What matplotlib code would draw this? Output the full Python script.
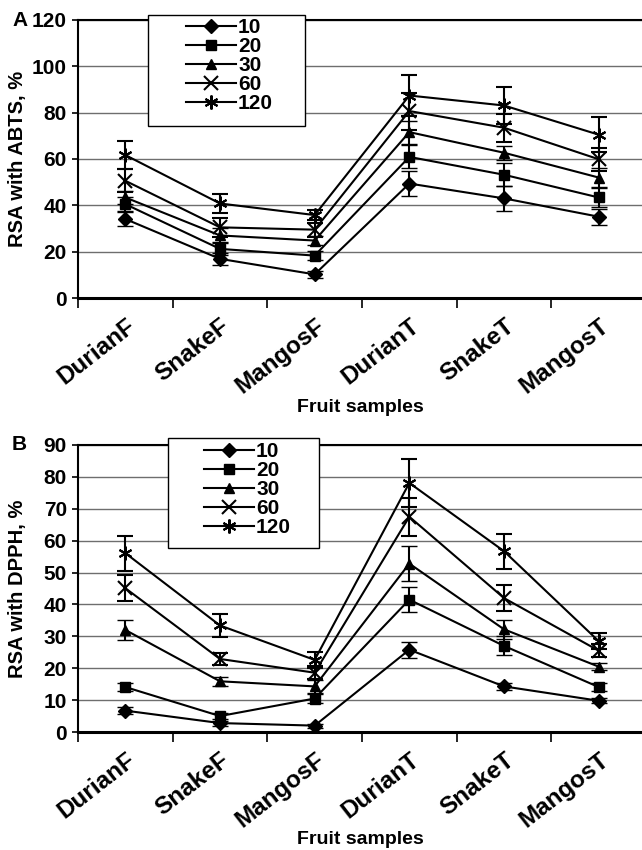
import matplotlib
matplotlib.use("Agg")
import matplotlib.pyplot as plt
from matplotlib.patches import Rectangle
from matplotlib.lines import Line2D
import numpy as np

plt.rcParams['font.family'] = ['Liberation Sans', 'DejaVu Sans']
plt.rcParams['font.weight'] = 'bold'

categories = ["DurianF", "SnakeF", "MangosF", "DurianT", "SnakeT", "MangosT"]
series_labels = ["10", "20", "30", "60", "120"]
markers = ["D", "s", "^", "x", (6, 2, 0)]

# Panel A: RSA with ABTS, %
abts_10 = [34.1, 16.9, 10.2, 49.4, 43.0, 35.1]
abts_20 = [40.5, 21.2, 18.3, 60.9, 53.2, 43.4]
abts_30 = [43.4, 27.0, 24.8, 71.6, 62.7, 52.0]
abts_60 = [50.6, 30.5, 29.5, 80.7, 73.5, 59.9]
abts_120 = [61.7, 40.8, 35.8, 87.4, 83.1, 70.5]
abts_err_10 = [3.0, 2.5, 1.5, 5.5, 5.5, 3.5]
abts_err_20 = [3.0, 2.5, 2.0, 5.0, 5.0, 4.0]
abts_err_30 = [3.0, 3.0, 2.0, 5.0, 3.0, 4.0]
abts_err_60 = [5.0, 4.0, 3.0, 8.0, 6.0, 5.0]
abts_err_120 = [6.0, 4.0, 2.0, 9.0, 8.0, 7.5]

# Panel B: RSA with DPPH, %
dpph_10 = [6.7, 2.8, 2.0, 25.8, 14.3, 9.8]
dpph_20 = [14.1, 5.0, 10.5, 41.5, 27.0, 14.1]
dpph_30 = [32.0, 15.9, 14.3, 52.8, 32.2, 20.5]
dpph_60 = [45.1, 22.9, 18.6, 67.5, 42.0, 25.5]
dpph_120 = [56.1, 33.4, 22.6, 78.1, 56.7, 28.5]
dpph_err_10 = [1.0, 0.8, 0.6, 2.5, 1.2, 0.8]
dpph_err_20 = [1.2, 1.0, 1.5, 4.0, 3.0, 1.2]
dpph_err_30 = [3.0, 1.5, 2.0, 5.5, 3.0, 1.2]
dpph_err_60 = [4.0, 2.0, 2.0, 6.0, 4.0, 2.0]
dpph_err_120 = [5.5, 3.5, 2.5, 7.5, 5.5, 2.5]

W, H = 642, 850
fig = plt.figure(figsize=(W / 100, H / 100), dpi=100)


def fx(px):
    return px / W


def fy(py):
    return 1 - py / H


def mstyle(mk):
    star = mk == "x" or isinstance(mk, tuple)
    return dict(marker=mk, markersize=10 if star else 7,
                markeredgewidth=1.5 if star else 1, mfc="black", mec="black")


def panel(rect_px, values, errs, ymax, ystep, ylabel, letter, leg_box, leg_anchor, xlab_y):
    l, t, r, b = rect_px
    ax = fig.add_axes([fx(l), fy(b), fx(r - l), (b - t) / H])
    x = np.arange(1, len(categories) + 1)
    handles = []
    for vals, err, mk, lab in zip(values, errs, markers, series_labels):
        ax.errorbar(x, vals, yerr=err, color="black", lw=1.5, capsize=6,
                    capthick=1.5, elinewidth=1.5, **mstyle(mk))
        handles.append(Line2D([], [], color="black", lw=1.5, **mstyle(mk)))
    ax.set_xlim(0.5, len(categories) + 0.5)
    ax.set_ylim(0, ymax)
    ticks = np.arange(0, ymax + 0.1, ystep)
    ax.set_yticks(ticks)
    ax.set_yticklabels([f"{int(v)}" for v in ticks], fontsize=15, fontweight="bold")
    ax.yaxis.grid(True, color="#6e6e6e", lw=1)
    ax.set_axisbelow(True)
    ax.set_xticks(x)
    ax.set_xticklabels(categories, rotation=38, ha="right", va="top",
                       rotation_mode="anchor", fontsize=17.5, fontweight="bold")
    ax.tick_params(axis="x", which="major", length=0, pad=12)
    ax.set_xticks(np.arange(0.5, len(categories) + 0.6, 1), minor=True)
    ax.tick_params(axis="x", which="minor", length=7, width=1.2, direction="out")
    ax.tick_params(axis="y", length=4, width=1.2, direction="out", pad=4)
    for s in ("left", "top"):
        ax.spines[s].set_linewidth(1.5)
    ax.spines["bottom"].set_linewidth(2.2)
    ax.spines["right"].set_visible(False)
    fig.text(fx(18), fy((t + b) / 2), ylabel, rotation=90, fontsize=14.5,
             fontweight="bold", ha="center", va="center")
    fig.text(fx(360), fy(xlab_y), "Fruit samples", fontsize=14, fontweight="bold",
             ha="center", va="center")
    fig.text(fx(12), fy(t), letter, fontsize=15, fontweight="bold",
             ha="left", va="center")
    bl, bt, br, bb = leg_box
    ax.add_patch(Rectangle((fx(bl), fy(bb)), fx(br - bl), (bb - bt) / H,
                           transform=fig.transFigure, facecolor="white",
                           edgecolor="black", lw=1, zorder=5, clip_on=False))
    leg = ax.legend(handles, series_labels, loc="upper left",
                    bbox_to_anchor=(fx(leg_anchor[0]), fy(leg_anchor[1])),
                    bbox_transform=fig.transFigure, frameon=False,
                    prop={"size": 15, "weight": "bold"}, handlelength=2.4,
                    handletextpad=0.1, labelspacing=0.0, borderpad=0,
                    borderaxespad=0)
    leg.set_zorder(6)
    return ax


panel((78, 20, 646, 298),
      [abts_10, abts_20, abts_30, abts_60, abts_120],
      [abts_err_10, abts_err_20, abts_err_30, abts_err_60, abts_err_120],
      120, 20, "RSA with ABTS, %", "A", (148, 15, 305, 126), (186, 18), 408)
panel((78, 445, 646, 732),
      [dpph_10, dpph_20, dpph_30, dpph_60, dpph_120],
      [dpph_err_10, dpph_err_20, dpph_err_30, dpph_err_60, dpph_err_120],
      90, 10, "RSA with DPPH, %", "B", (168, 438, 319, 548), (204, 442), 840)

fig.savefig("out.png", dpi=100)
